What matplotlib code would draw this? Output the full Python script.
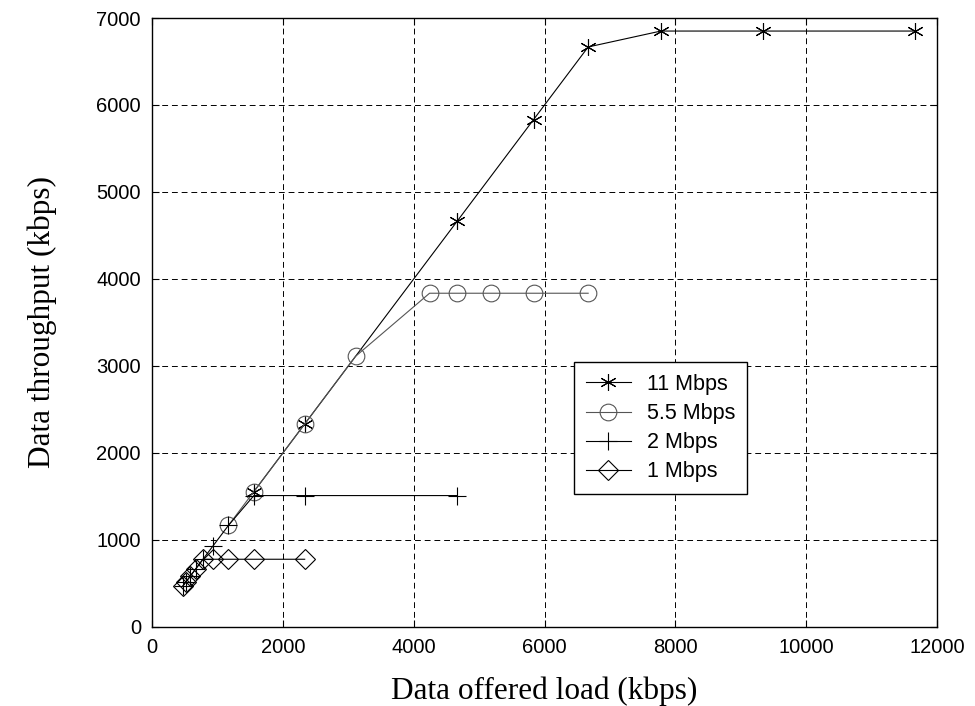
import numpy as np
import matplotlib.pyplot as plt

# offered load (kbps) and throughput (kbps) for each rate
x_11 = [1556, 2333, 4667, 5833, 6667, 7778, 9333, 11667]
y_11 = [1556, 2333, 4667, 5833, 6667, 6850, 6850, 6850]

x_55 = [1167, 1556, 2333, 3111, 4242, 4667, 5185, 5833, 6667]
y_55 = [1167, 1556, 2333, 3111, 3836, 3836, 3836, 3836, 3836]

x_2 = [467, 519, 583, 667, 778, 933, 1167, 1556, 2333, 4667]
y_2 = [467, 519, 583, 667, 778, 933, 1167, 1510, 1510, 1510]

x_1 = [467, 519, 583, 667, 778, 933, 1167, 1556, 2333]
y_1 = [467, 519, 583, 667, 778, 778, 778, 778, 778]

labels = ['11 Mbps', '5.5 Mbps', '2 Mbps', '1 Mbps']

plt.rcParams['font.family'] = ['Liberation Sans', 'DejaVu Sans']

fig = plt.figure(figsize=(9.75, 7.06), dpi=100)
ax = fig.add_axes([0.156, 0.112, 0.805, 0.8625])

ax.plot(x_11, y_11, color='black', lw=0.8, marker=(6, 2, 0), ms=12,
        mec='black', mew=0.8, label=labels[0])
ax.plot(x_55, y_55, color='#555555', lw=0.8, marker='o', ms=12,
        mfc='none', mec='#555555', mew=0.8, label=labels[1])
ax.plot(x_2, y_2, color='black', lw=0.8, marker='+', ms=13,
        mew=0.8, label=labels[2])
ax.plot(x_1, y_1, color='black', lw=0.8, marker='D', ms=10,
        mfc='none', mec='black', mew=0.8, label=labels[3])

ax.set_xlim(0, 12000)
ax.set_ylim(0, 7000)
ax.set_xticks(np.arange(0, 12001, 2000))
ax.set_yticks(np.arange(0, 7001, 1000))
ax.grid(True, color='black', linestyle=(0, (6, 4)), lw=0.7)
ax.tick_params(direction='in', top=True, right=True, labelsize=14.5, length=5, pad=8)
for s in ax.spines.values():
    s.set_linewidth(1.0)

ax.set_xlabel('Data offered load (kbps)', family='Liberation Serif', fontsize=22.5, labelpad=14)
ax.set_ylabel('Data throughput (kbps)', family='Liberation Serif', fontsize=22.5, labelpad=28)

leg = ax.legend(loc='upper left', bbox_to_anchor=(0.5376, 0.435), fontsize=15.5,
                frameon=True, fancybox=False, edgecolor='black', framealpha=1,
                borderaxespad=0, handlelength=2.1, borderpad=0.55, labelspacing=0.38,
                handletextpad=0.75)
leg.get_frame().set_linewidth(1.0)

fig.savefig('out.png', dpi=100)
